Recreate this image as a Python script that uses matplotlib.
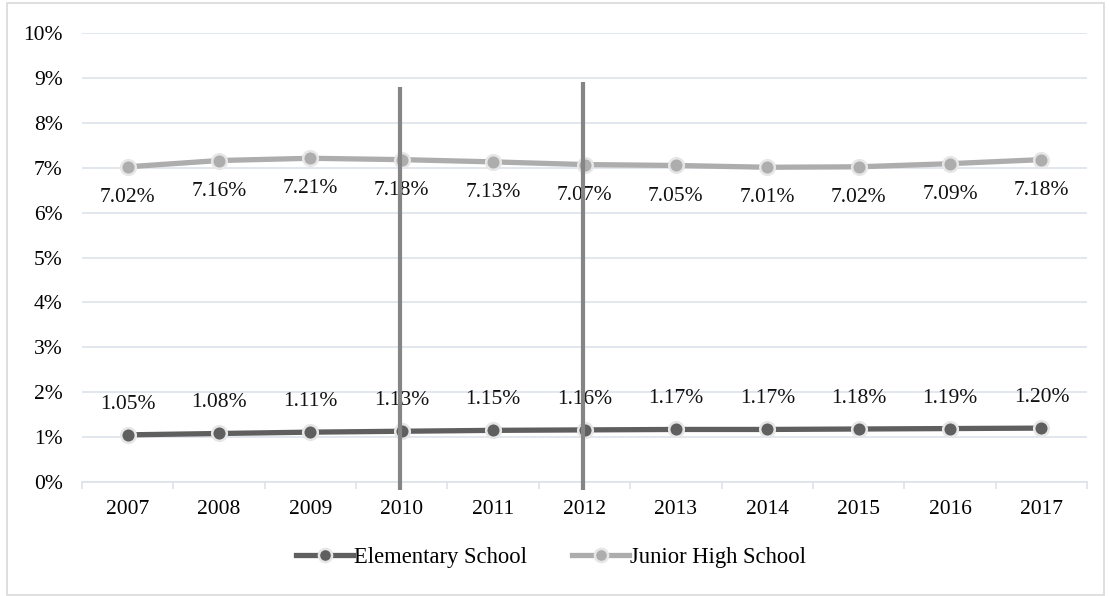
import matplotlib.pyplot as plt
from matplotlib.patches import Rectangle

plt.rcParams["font.family"] = ["Liberation Serif", "DejaVu Serif"]

# ---------------- DATA ----------------
years = ["2007", "2008", "2009", "2010", "2011", "2012",
         "2013", "2014", "2015", "2016", "2017"]
elementary = [1.05, 1.08, 1.11, 1.13, 1.15, 1.16, 1.17, 1.17, 1.18, 1.19, 1.20]
junior_high = [7.02, 7.16, 7.21, 7.18, 7.13, 7.07, 7.05, 7.01, 7.02, 7.09, 7.18]
marked_years = ["2010", "2012"]
marked_tops = [8.8, 8.9]

# ---------------- FIGURE ----------------
fig = plt.figure(figsize=(11.09, 5.96), dpi=100)
ax = fig.add_axes([0.0739, 0.1913, 0.9064, 0.7533])

x = list(range(len(years)))
grid_col = "#dde2ea"
fs = 15.5

ax.plot(x, elementary, color="#5f5f5f", lw=3.8, marker="o", ms=10.5,
        mfc="#5f5f5f", mec="#e6e6e6", mew=1.8, zorder=3, label="Elementary School")
ax.plot(x, junior_high, color="#adadad", lw=3.8, marker="o", ms=10.5,
        mfc="#adadad", mec="#e6e6e6", mew=1.8, zorder=3, label="Junior High School")

# value labels
for xi, v in zip(x, elementary):
    ax.annotate(f"{v:.2f}%", (xi, v), xytext=(0, 22), textcoords="offset points",
                ha="center", va="center", fontsize=fs, color="#111111", zorder=2)
for xi, v in zip(x, junior_high):
    ax.annotate(f"{v:.2f}%", (xi, v), xytext=(0, -22), textcoords="offset points",
                ha="center", va="center", fontsize=fs, color="#111111", zorder=2)

# vertical markers
for yr, top in zip(marked_years, marked_tops):
    xi = years.index(yr) - 0.02
    ax.plot([xi, xi], [-0.18, top], color="#858585", lw=3, zorder=4,
            clip_on=False, solid_capstyle="butt")

ax.set_xlim(-0.5, len(years) - 0.5)
ax.set_ylim(0, 10)
ax.set_yticks(range(0, 11))
ax.set_yticklabels([f"{i}%" for i in range(0, 11)])
ax.set_xticks(x)
ax.set_xticklabels(years)
ax.set_xticks([i - 0.5 for i in range(len(years) + 1)], minor=True)

ax.grid(axis="y", color=grid_col, lw=1.2, zorder=0)
for s in ["top", "right", "left"]:
    ax.spines[s].set_visible(False)
ax.spines["bottom"].set_color(grid_col)
ax.spines["bottom"].set_linewidth(1.2)

ax.tick_params(axis="y", length=0, pad=14, labelsize=fs)
ax.tick_params(axis="x", which="major", length=0, pad=13, labelsize=fs)
ax.tick_params(axis="x", which="minor", length=5, color=grid_col, width=1.2)

fig.legend(loc="center", bbox_to_anchor=(0.497, 0.064), ncol=2, frameon=False,
           fontsize=16.3, handlelength=2.5, handletextpad=0.05, columnspacing=2.0,
           markerscale=0.9)

# outer border
fig.patches.append(Rectangle((0.0063, 0.0017), 0.9893, 0.9933, transform=fig.transFigure,
                             fill=False, edgecolor="#d9d9d9", lw=1.2))

fig.savefig("out.png", dpi=100)
